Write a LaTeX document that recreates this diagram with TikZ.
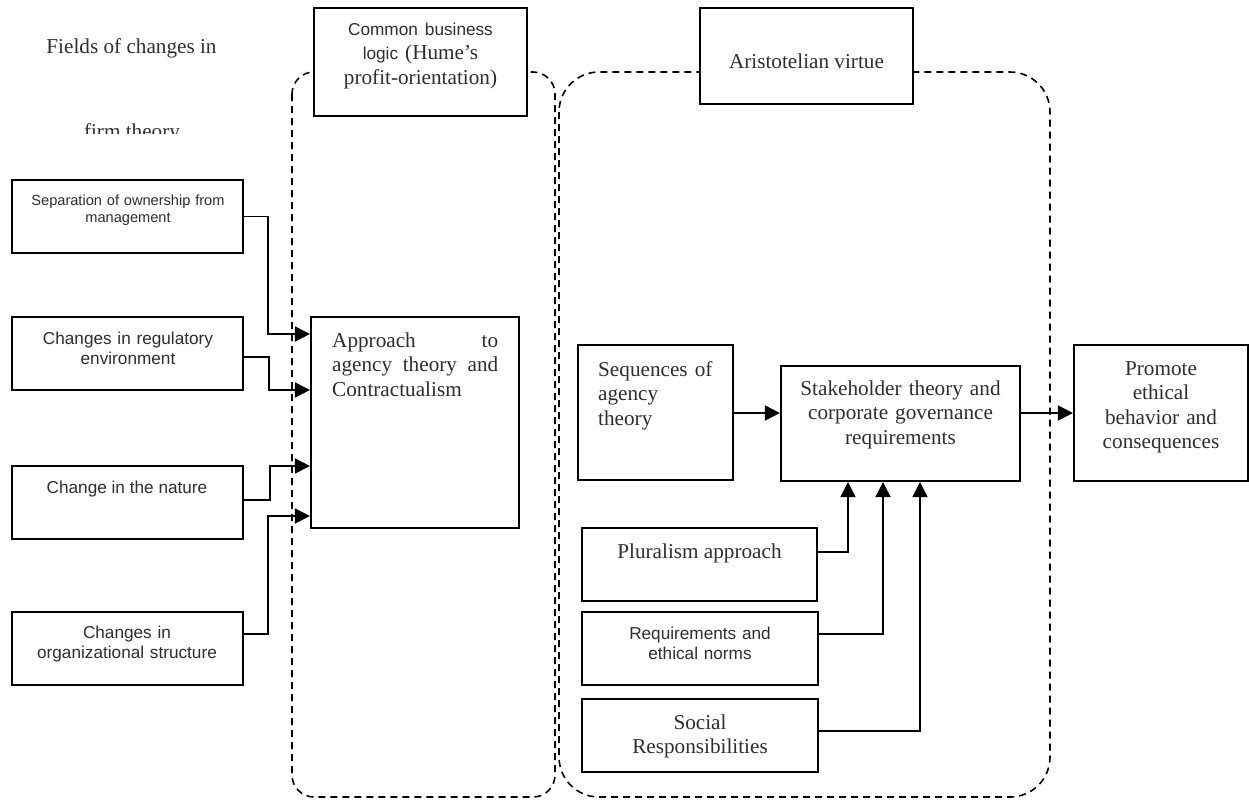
\documentclass[tikz,border=0pt]{standalone}
\usepackage{fontspec}
\setmainfont{Liberation Serif}
\setsansfont{Liberation Sans}
\usetikzlibrary{arrows.meta}
\definecolor{txtgray}{HTML}{2E2E2E}
\newcommand{\serifsz}{\rmfamily\fontsize{21.2}{24.5}\selectfont}
\newcommand{\sanssz}{\sffamily\fontsize{17.2}{20}\selectfont}
\newcommand{\sanssm}{\sffamily\fontsize{14.6}{17}\selectfont}

\begin{document}
\begin{tikzpicture}[x=1pt, y=-1pt,
  box/.style={draw, line width=2.2pt, fill=white, inner sep=0pt},
  cont/.style={line width=1.6pt, dash pattern=on 7pt off 5pt},
  conn/.style={->, line width=1.9pt},
  >={Triangle[length=15pt,width=15pt]},
  stxt/.style={inner sep=0pt, text=txtgray, align=center, font=\serifsz},
  ftxt/.style={inner sep=0pt, text=txtgray, align=center, font=\sanssz}]
\useasboundingbox (0,0) rectangle (1249,801);
\draw[cont, rounded corners=22pt] (292,72) rectangle (555,797);
\draw[cont, rounded corners=40pt] (559,72) rectangle (1050,797);

\node[box, minimum width=213pt, minimum height=108pt] (common) at (420.5,62) {};
\node[box, minimum width=213pt, minimum height=96pt] (arist) at (806.5,56) {};
\node[box, minimum width=231pt, minimum height=73pt] (sep) at (127.5,216.5) {};
\node[box, minimum width=231pt, minimum height=73pt] (reg) at (127.5,353.5) {};
\node[box, minimum width=231pt, minimum height=73pt] (nat) at (127.5,502.5) {};
\node[box, minimum width=231pt, minimum height=73pt] (org) at (127.5,648.5) {};
\node[box, minimum width=208pt, minimum height=211pt] (app) at (415,422.5) {};
\node[box, minimum width=155pt, minimum height=135pt] (seq) at (655.5,412.5) {};
\node[box, minimum width=239pt, minimum height=115pt] (stake) at (900.5,423.5) {};
\node[box, minimum width=174pt, minimum height=136pt] (prom) at (1161,413) {};
\node[box, minimum width=235pt, minimum height=73pt] (plu) at (699.5,564.5) {};
\node[box, minimum width=236pt, minimum height=73pt] (req) at (700,648.5) {};
\node[box, minimum width=236pt, minimum height=73pt] (soc) at (700,735.5) {};

\node[stxt, anchor=base] (fields) at (131.5,53) {Fields of changes in};
\begin{scope}
\clip (0,0) rectangle (290,133);
\node[stxt, anchor=base] (firm) at (132,138) {firm theory};
\end{scope}
\node[stxt, anchor=base, text width=213pt] (commontxt) at (420.5,35) {{\sanssz Common business}\\{\sanssz logic} (Hume’s\\profit-orientation)};
\node[stxt, anchor=base] (aristtxt) at (806.5,68) {Aristotelian virtue};

\node[ftxt, font=\sanssm, anchor=base, text width=231pt] (septxt) at (128,205) {Separation of ownership from\\management};
\node[ftxt, anchor=base, text width=231pt] (regtxt) at (128,344) {Changes in regulatory\\environment};
\node[ftxt, anchor=base] (nattxt) at (127,493) {Change in the nature};
\node[ftxt, anchor=base, text width=231pt] (orgtxt) at (127,638) {Changes in\\organizational structure};
\node[stxt, align=left, anchor=base west, text width=166pt] (apptxt) at (332,347) {Approach\hfill to\\agency\hfill theory\hfill and\\Contractualism};

\node[stxt, align=left, anchor=base west, text width=135pt] (seqtxt) at (598,376) {Sequences of\\agency\\theory};
\node[stxt, anchor=base, text width=239pt] (staketxt) at (900.5,395) {Stakeholder theory and\\corporate governance\\requirements};
\node[stxt, anchor=base, text width=174pt] (promtxt) at (1161,375) {Promote\\ethical\\behavior and\\consequences};
\node[stxt, anchor=base] (plutxt) at (699.5,558) {Pluralism approach};
\node[ftxt, anchor=base, text width=236pt] (reqtxt) at (700,639) {Requirements and\\ethical norms};
\node[stxt, anchor=base, text width=236pt] (soctxt) at (700,729) {Social\\Responsibilities};

\foreach \src/\ys/\xm/\yt in {sep/216.5/268/334, reg/357/269/390, nat/500/270/466, org/634/268/516}
 \draw[conn] (\src.east |- 0,\ys) -| (\xm,\yt) -- (app.west |- 0,\yt);
\foreach \src/\ys/\xm in {plu/552/848, req/634/883, soc/731/920}
 \draw[conn] (\src.east |- 0,\ys) -| (stake.south -| \xm,0);
\draw[conn] (seq.east |- 0,413) -- (stake.west |- 0,413);
\draw[conn] (stake.east |- prom.west) -- (prom.west);
\end{tikzpicture}
\end{document}
